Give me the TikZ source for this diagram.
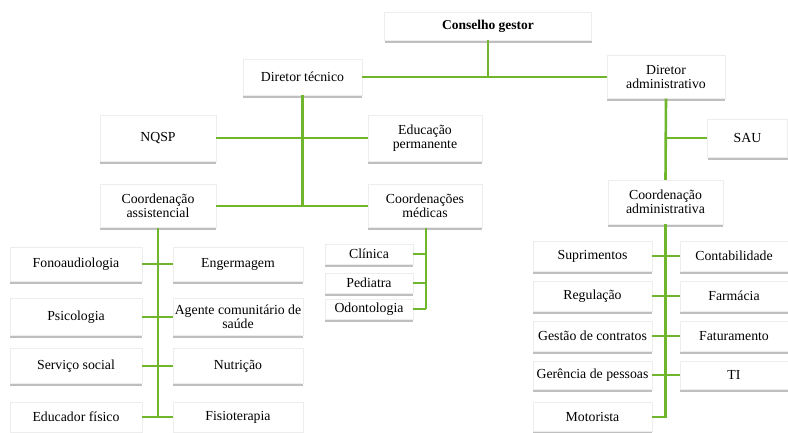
\documentclass[tikz,border=0pt]{standalone}
\usepackage{fontspec}
\setmainfont{Liberation Serif}
\usetikzlibrary{shadows}
\definecolor{lg}{RGB}{112,182,44}
\begin{document}
\begin{tikzpicture}[x=1pt,y=-1pt,
  box/.style={fill=white, draw=black!7, line width=0.4pt, align=center,
    inner sep=0.5pt, font=\fontsize{13.8}{13.5}\selectfont,
    general shadow={shadow yshift=-2.5pt, fill=black!25}},
  conn/.style={draw=lg, line width=2.6pt}]
\useasboundingbox (0,0) rectangle (788,432);
\fill[white] (0,0) rectangle (788,432);
% top
\node[box, minimum width=207, minimum height=28, font=\fontsize{13.5}{13.5}\selectfont\bfseries] (cg) at (488,26) {Conselho gestor};
\node[box, minimum width=119, minimum height=36] (dt) at (302.5,77) {Diretor técnico};
\node[box, minimum width=118, minimum height=43] (da) at (666,77) {Diretor\\administrativo};
% second level
\node[box, minimum width=116, minimum height=46] (nqsp) at (158,138) {NQSP};
\node[box, minimum width=114, minimum height=46] (ep) at (425,138) {Educação\\permanente};
\node[box, minimum width=80, minimum height=38] (sau) at (747.5,138) {SAU};
\node[box, minimum width=116, minimum height=43] (ca) at (158,206) {Coordenação\\assistencial};
\node[box, minimum width=114, minimum height=43] (cm) at (425,206) {Coordenações\\médicas};
\node[box, minimum width=115, minimum height=44] (cad) at (665.5,202) {Coordenação\\administrativa};
% assistencial grid
\node[box, minimum width=132, minimum height=34] (fono) at (76,264) {Fonoaudiologia};
\node[box, minimum width=130, minimum height=34] (enf) at (238,264) {Engermagem};
\node[box, minimum width=132, minimum height=37] (psi) at (76,317) {Psicologia};
\node[box, minimum width=130, minimum height=37] (age) at (238,317) {Agente comunitário de\\saúde};
\node[box, minimum width=132, minimum height=35] (ser) at (76,366) {Serviço social};
\node[box, minimum width=130, minimum height=35] (nut) at (238,366) {Nutrição};
\node[box, minimum width=132, minimum height=30] (edu) at (76,417) {Educador físico};
\node[box, minimum width=130, minimum height=30] (fis) at (238,417) {Fisioterapia};
% medical
\node[box, minimum width=88, minimum height=20] (cli) at (369,254) {Clínica};
\node[box, minimum width=88, minimum height=20] (ped) at (369,283) {Pediatra};
\node[box, minimum width=88, minimum height=20] (odo) at (369,309) {Odontologia};
% administrative grid
\node[box, minimum width=119, minimum height=30] (sup) at (592.5,256) {Suprimentos};
\node[box, minimum width=108, minimum height=30] (con) at (734,256) {Contabilidade};
\node[box, minimum width=119, minimum height=30] (reg) at (592.5,296) {Regulação};
\node[box, minimum width=108, minimum height=30] (far) at (734,296) {Farmácia};
\node[box, minimum width=119, minimum height=30] (ges) at (592.5,336) {Gestão de contratos};
\node[box, minimum width=108, minimum height=30] (fat) at (734,336) {Faturamento};
\node[box, minimum width=119, minimum height=28] (ger) at (592.5,375) {Gerência de pessoas};
\node[box, minimum width=108, minimum height=28] (ti) at (734,375) {TI};
\node[box, minimum width=119, minimum height=29] (mot) at (592.5,417) {Motorista};
% connectors
\draw[conn] (cg.south) -- (cg.south |- dt.east);
\draw[conn] (dt.east) -- (da.west);
\draw[conn] (dt.south) -- (dt.south |- ca.east);
\draw[conn] (nqsp.east) -- (ep.west);
\draw[conn] (ca.east) -- (cm.west);
\draw[conn] (da.south) -- (cad.north);
\draw[conn] (sau.west -| da.south) -- (sau.west);
\draw[conn] (ca.south) -- (ca.south |- edu.east);
\draw[conn] (fono.east) -- (enf.west);
\draw[conn] (psi.east) -- (age.west);
\draw[conn] (ser.east) -- (nut.west);
\draw[conn] (edu.east) -- (fis.west);
\coordinate (mx) at (426,0);
\draw[conn] (cm.south -| mx) -- (odo.east -| mx);
\draw[conn] (cli.east) -- (cli.east -| mx);
\draw[conn] (ped.east) -- (ped.east -| mx);
\draw[conn] (odo.east) -- (odo.east -| mx);
\draw[conn] (cad.south) -- (cad.south |- mot.east) -- (mot.east);
\draw[conn] (sup.east) -- (con.west);
\draw[conn] (reg.east) -- (far.west);
\draw[conn] (ges.east) -- (fat.west);
\draw[conn] (ger.east) -- (ti.west);
\end{tikzpicture}
\end{document}
